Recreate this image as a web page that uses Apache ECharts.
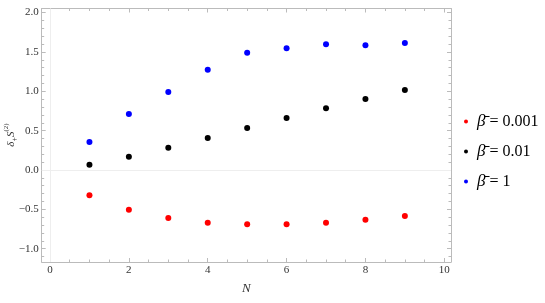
<!DOCTYPE html>
<html>
<head>
<meta charset="utf-8">
<script src="https://cdn.jsdelivr.net/npm/echarts@6/dist/echarts.min.js"></script>
<style>html,body{margin:0;padding:0;background:#fff}#c{width:545px;height:303px}</style>
</head>
<body>
<div id="c"></div>
<script>
var N = [1, 2, 3, 4, 5, 6, 7, 8, 9];
var beta0001 = [-0.322, -0.504, -0.61, -0.67, -0.69, -0.69, -0.67, -0.632, -0.585];
var beta001 = [0.068, 0.169, 0.283, 0.407, 0.534, 0.66, 0.784, 0.902, 1.017];
var beta1 = [0.356, 0.71, 0.99, 1.274, 1.49, 1.546, 1.597, 1.584, 1.614];
var seriesNames = ['0.001', '0.01', '1'];
var seriesColors = ['#ff0000', '#000000', '#0000ff'];
var xMajor = [0, 2, 4, 6, 8, 10];
var yMajor = [-1.0, -0.5, 0.0, 0.5, 1.0, 1.5, 2.0];

var xRange = [-0.211, 10.17];
var yRange = [-1.169, 2.052];
var frame = '#bbbbbb';
var serif = 'Liberation Serif';

function stepVals(a, b, s) {
  var out = [];
  for (var v = a; v <= b + 1e-9; v += s) out.push(Math.round(v * 100) / 100);
  return out;
}
var xMinor = stepVals(0, 10, 0.5);
var yMinor = stepVals(-1.1, 2.0, 0.1);

function zip(ys) { return N.map(function (n, i) { return [n, ys[i]]; }); }

function mkX(pos, vals, len, labels, line) {
  return {
    type: 'value', position: pos, min: xRange[0], max: xRange[1],
    axisLine: { show: line, onZero: false, lineStyle: { color: frame, width: 1 } },
    axisTick: { show: true, inside: true, length: len, customValues: vals, lineStyle: { color: frame } },
    axisLabel: labels ? { show: true, customValues: xMajor, fontFamily: serif, fontSize: 11, color: '#333', margin: 3 } : { show: false },
    splitLine: { show: false },
    name: labels ? 'N' : '', nameLocation: 'middle', nameGap: 20,
    nameTextStyle: { fontFamily: serif, fontStyle: 'italic', fontSize: 13, color: '#333' }
  };
}
function mkY(pos, vals, len, labels, line) {
  return {
    type: 'value', position: pos, min: yRange[0], max: yRange[1],
    axisLine: { show: line, onZero: false, lineStyle: { color: frame, width: 1 } },
    axisTick: { show: true, inside: true, length: len, customValues: vals, lineStyle: { color: frame } },
    axisLabel: labels ? {
      show: true, customValues: yMajor, fontFamily: serif, fontSize: 11, color: '#333', margin: 3,
      formatter: function (v) { return (v < 0 ? '\u2212' : '') + Math.abs(v).toFixed(1); }
    } : { show: false },
    splitLine: { show: false }
  };
}

var series = [beta0001, beta001, beta1].map(function (d, i) {
  return {
    name: seriesNames[i], type: 'scatter', xAxisIndex: 0, yAxisIndex: 0,
    data: zip(d), symbolSize: 6, itemStyle: { color: seriesColors[i], opacity: 1 }, z: 5
  };
});
series[0].markLine = {
  silent: true, symbol: 'none', label: { show: false },
  lineStyle: { color: '#eeeeee', type: 'solid', width: 1 },
  data: [{ xAxis: 0 }, { yAxis: 0 }], z: 1
};

var chart = echarts.init(document.getElementById('c'), null, { renderer: 'canvas' });
chart.setOption({
  animation: false,
  backgroundColor: '#ffffff',
  grid: { left: 41.7, right: 94, top: 8.5, bottom: 41, outerBoundsMode: 'none', containLabel: false },
  xAxis: [
    mkX('bottom', xMajor, 4, true, true),
    mkX('bottom', xMinor, 2.5, false, false),
    mkX('top', xMajor, 4, false, true),
    mkX('top', xMinor, 2.5, false, false)
  ],
  yAxis: [
    mkY('left', yMajor, 4, true, true),
    mkY('left', yMinor, 2.5, false, false),
    mkY('right', yMajor, 4, false, true),
    mkY('right', yMinor, 2.5, false, false)
  ],
  graphic: [{
    type: 'text', x: 11, y: 135, rotation: Math.PI / 2,
    style: {
      text: '{a|\u03B4}{s|+}{b|S}{p|(2)}', align: 'center', verticalAlign: 'middle',
      rich: {
        a: { fontFamily: serif, fontStyle: 'italic', fontSize: 11, fill: '#333', verticalAlign: 'middle', lineHeight: 16 },
        s: { fontFamily: serif, fontSize: 8, fill: '#333', verticalAlign: 'bottom', lineHeight: 16 },
        b: { fontFamily: serif, fontStyle: 'italic', fontSize: 11, fill: '#333', verticalAlign: 'middle', lineHeight: 16 },
        p: { fontFamily: serif, fontSize: 7, fill: '#333', verticalAlign: 'top', lineHeight: 16 }
      }
    }
  }],
  legend: {
    orient: 'vertical', left: 459, top: 108, itemWidth: 4, itemHeight: 20, itemGap: 13,
    icon: 'circle',
    data: seriesNames,
    formatter: function (n) { return '{b|\u03B2\u0304}{t| = ' + n + '}'; },
    textStyle: {
      fontFamily: serif, fontSize: 16, color: '#000', padding: [0, 0, 0, 4],
      rich: {
        b: { fontFamily: serif, fontStyle: 'italic', fontSize: 17, color: '#000', lineHeight: 20 },
        t: { fontFamily: serif, fontSize: 16, color: '#000', lineHeight: 20 }
      }
    },
    selectedMode: false
  },
  series: series
});
</script>
</body>
</html>
